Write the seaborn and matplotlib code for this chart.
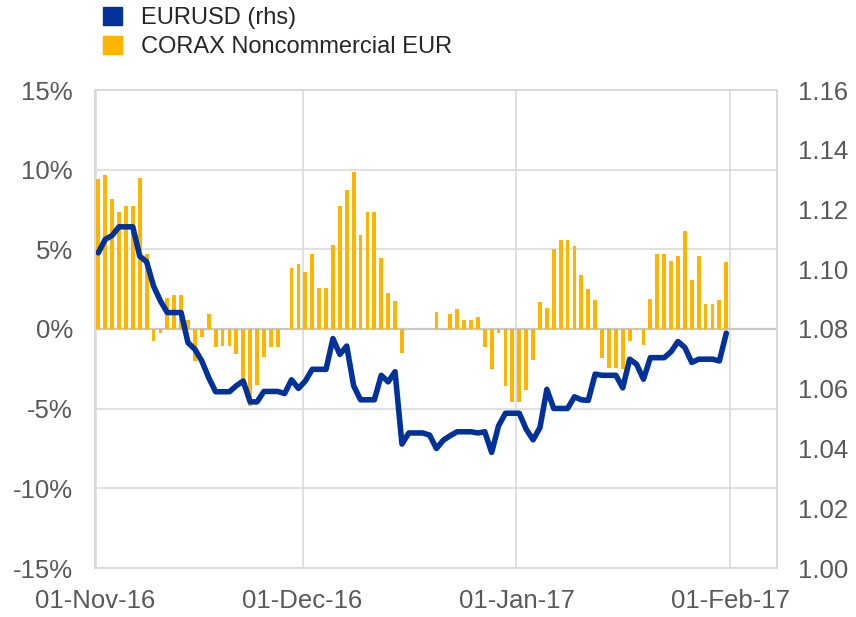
import numpy as np
import pandas as pd
import matplotlib
matplotlib.use("Agg")
import matplotlib.pyplot as plt
import matplotlib.dates as mdates
from matplotlib.patches import Patch
import seaborn as sns

# daily observations, 01-Nov-16 .. 31-Jan-17 (weekends carried forward)
dates = pd.date_range("2016-11-01", "2017-01-31", freq="D")

# CORAX noncommercial EUR, % (gaps = no value)
corax = [
    9.42, 9.65, 8.18, 7.33, 7.75, 7.75, 9.46, 4.72, -0.75, -0.23,
    1.92, 2.15, 2.15, 0.54, -2.00, -0.48, 0.96, -1.13, -1.06, -1.06,
    -1.55, -3.57, -4.82, -3.49, -1.75, -1.13, -1.13, np.nan, 3.80, 4.05,
    3.59, 4.72, 2.59, 2.59, 5.30, 7.75, 8.73, 9.83, 5.89, 7.33,
    7.33, 4.47, 2.23, 1.75, -1.52, np.nan, np.nan, np.nan, np.nan, 1.09,
    -0.05, 0.92, 1.23, 0.54, 0.54, 0.73, -1.13, -2.48, -0.27, -3.57,
    -4.61, -4.61, -3.82, -1.92, 1.71, 1.29, 5.03, 5.59, 5.59, 5.18,
    3.38, 2.48, 1.84, -1.80, -2.46, -2.46, -2.53, -0.77, 0.08, -0.98,
    1.90, 4.68, 4.68, 4.24, 4.59, 6.12, 3.05, 4.61, 1.54, 1.54,
    1.80, 4.22,
]

# EURUSD spot (rhs)
eurusd = [
    1.1055, 1.1100, 1.1113, 1.1142, 1.1142, 1.1142, 1.1044, 1.1025, 1.0944, 1.0894,
    1.0855, 1.0855, 1.0855, 1.0754, 1.0732, 1.0693, 1.0637, 1.0590, 1.0590, 1.0590,
    1.0610, 1.0626, 1.0556, 1.0556, 1.0591, 1.0591, 1.0591, 1.0584, 1.0630, 1.0601,
    1.0626, 1.0665, 1.0665, 1.0665, 1.0768, 1.0715, 1.0743, 1.0610, 1.0563, 1.0563,
    1.0563, 1.0645, 1.0623, 1.0657, 1.0415, 1.0452, 1.0452, 1.0452, 1.0445, 1.0400,
    1.0428, 1.0443, 1.0456, 1.0456, 1.0456, 1.0452, 1.0456, 1.0387, 1.0476, 1.0518,
    1.0518, 1.0518, 1.0465, 1.0429, 1.0470, 1.0598, 1.0534, 1.0534, 1.0534, 1.0573,
    1.0563, 1.0561, 1.0649, 1.0645, 1.0645, 1.0645, 1.0603, 1.0699, 1.0682, 1.0632,
    1.0704, 1.0704, 1.0704, 1.0724, 1.0758, 1.0738, 1.0688, 1.0699, 1.0699, 1.0699,
    1.0693, 1.0786,
]

tick_dates = ["2016-11-01", "2016-12-01", "2017-01-01", "2017-02-01"]

df = pd.DataFrame({"date": dates, "corax": corax, "eurusd": eurusd})
# points sit a little right of the date gridline, as in the source chart
df["x"] = mdates.date2num(df["date"]) + 0.4

blue = "#003299"
orange = "#FFB400"
grid = "#D9D9D9"
txt = "#595959"

sns.set_style("white")
plt.rcParams["font.family"] = ["Liberation Sans", "DejaVu Sans"]

fig = plt.figure(figsize=(8.56, 6.17), dpi=100)
ax = fig.add_axes([95 / 856, 1 - 568 / 617, (777 - 95) / 856, (568 - 90) / 617])

ax.bar(df["x"], df["corax"], width=0.55, color=orange, edgecolor="none",
       linewidth=0, zorder=2)
ax.axhline(0, color="#C8C8C8", lw=1.6, zorder=1)

ax.set_ylim(-15, 15)
ax.set_yticks(range(-15, 16, 5))
ax.set_yticklabels([f"{v}%" for v in range(-15, 16, 5)])
ax.set_xlim(mdates.date2num(pd.Timestamp("2016-11-01")) - 0.08,
            mdates.date2num(pd.Timestamp("2017-02-07")) + 0.75)
ax.set_xticks(mdates.date2num(pd.to_datetime(tick_dates)))
ax.xaxis.set_major_formatter(mdates.DateFormatter("%d-%b-%y"))
ax.grid(True, color=grid, lw=1.1, zorder=0)
ax.set_axisbelow(True)

ax2 = ax.twinx()
sns.lineplot(data=df, x="x", y="eurusd", ax=ax2, color=blue, lw=4.0, legend=False)
ax2.set_ylim(1.00, 1.16)
ax2.set_yticks(np.arange(1.00, 1.161, 0.02))
ax2.set_yticklabels([f"{v:.2f}" for v in np.arange(1.00, 1.161, 0.02)])
ax2.set_xlabel("")
ax2.set_ylabel("")
ax.set_xlabel("")
ax.set_ylabel("")

for a in (ax, ax2):
    for s in a.spines.values():
        s.set_color(grid)
        s.set_linewidth(1.1)
    a.tick_params(length=0, labelsize=18.5, labelcolor=txt)
ax.tick_params(axis="y", pad=16)
ax.tick_params(axis="x", pad=15)
ax2.tick_params(axis="y", pad=15)

handles = [Patch(color=blue), Patch(color=orange)]
fig.legend(handles, ["EURUSD (rhs)", "CORAX Noncommercial EUR"],
           loc="upper left", bbox_to_anchor=(103 / 856, 1 - 7 / 617),
           frameon=False, fontsize=17, handlelength=0.82, handleheight=0.82,
           handletextpad=0.78, labelspacing=0.28, borderpad=0, borderaxespad=0)

fig.savefig("out.png", dpi=100)
